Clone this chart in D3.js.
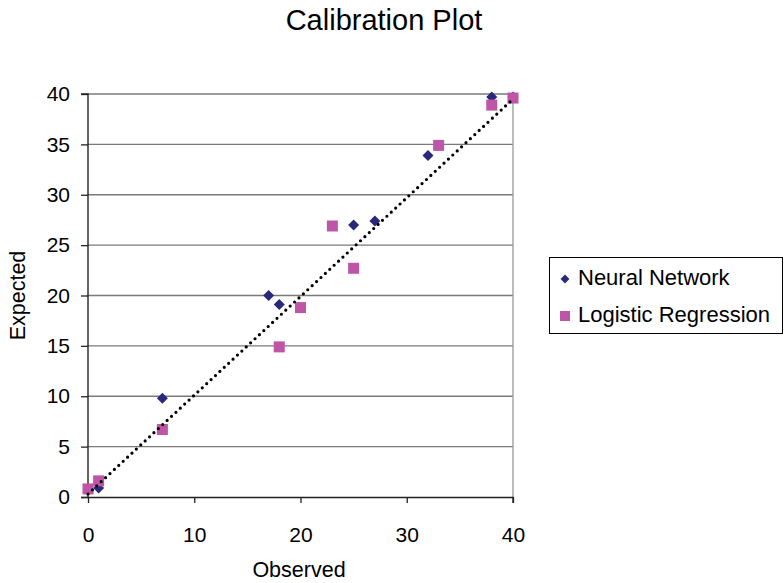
<!DOCTYPE html>
<html>
<head>
<meta charset="utf-8">
<script src="https://cdn.jsdelivr.net/npm/d3@7"></script>
<style>
  html, body { margin: 0; padding: 0; background: #fff; }
  svg text { font-family: "Liberation Sans", Arial, Helvetica, sans-serif; fill: #000; }
</style>
</head>
<body>
<svg id="chart" width="784" height="583"></svg>
<script>
// Observed vs expected counts for each model
const nnObserved = [1, 7, 17, 18, 25, 27, 32, 38, 40];
const nnExpected = [0.9, 9.8, 20, 19.1, 27, 27.4, 33.9, 39.7, 39.7];
const lrObserved = [0, 1, 7, 18, 20, 23, 25, 33, 38, 40];
const lrExpected = [0.8, 1.6, 6.7, 14.9, 18.8, 26.9, 22.7, 34.9, 38.9, 39.6];
// Linear trend (dotted) endpoints
const trendObserved = [0, 40];
const trendExpected = [0.3, 39.5];
const xTicks = [0, 10, 20, 30, 40];
const yTicks = [0, 5, 10, 15, 20, 25, 30, 35, 40];
const seriesNames = ["Neural Network", "Logistic Regression"];

const NAVY = "#29297c";
const PINK = "#bf55a7";

const svg = d3.select("#chart");
const x = d3.scaleLinear().domain([0, 40]).range([88, 513]);
const y = d3.scaleLinear().domain([0, 40]).range([497, 94]);

// Title
svg.append("text").attr("x", 384).attr("y", 30)
  .attr("text-anchor", "middle").style("font-size", "29px")
  .text("Calibration Plot");

// Horizontal gridlines
svg.append("g").selectAll("line").data(yTicks.filter(d => d > 0)).join("line")
  .attr("x1", x(0)).attr("x2", x(40))
  .attr("y1", d => y(d)).attr("y2", d => y(d))
  .attr("stroke", "#7a7a7a").attr("stroke-width", 1.3);

// Right edge of plot area
svg.append("line").attr("x1", x(40)).attr("x2", x(40))
  .attr("y1", y(40)).attr("y2", y(0))
  .attr("stroke", "#9a9a9a").attr("stroke-width", 1.3);

// Axes
const xAxis = d3.axisBottom(x).tickValues(xTicks).tickSize(6).tickPadding(24);
const yAxis = d3.axisLeft(y).tickValues(yTicks).tickSize(7).tickPadding(11);

const gx = svg.append("g").attr("transform", `translate(0,${y(0)})`).call(xAxis);
const gy = svg.append("g").attr("transform", `translate(${x(0)},0)`).call(yAxis);
[gx, gy].forEach(g => {
  g.select(".domain").attr("stroke", "#222").attr("stroke-width", 1.4);
  g.selectAll(".tick line").attr("stroke", "#222").attr("stroke-width", 1.3);
  g.selectAll(".tick text").style("font-size", "21px")
    .style("font-family", "'Liberation Sans', Arial, sans-serif").attr("fill", "#000");
});
gx.select(".domain").attr("d", `M${x(0) - 7},0.5H${x(40)}V6`);
gy.select(".domain").attr("d", `M-7,${y(40)}H0V${y(0)}`);

// Axis titles
svg.append("text").attr("x", 299).attr("y", 577)
  .attr("text-anchor", "middle").style("font-size", "21.5px").text("Observed");
svg.append("text").attr("transform", `translate(25,${y(20)}) rotate(-90)`)
  .attr("text-anchor", "middle").style("font-size", "21.5px").text("Expected");

// Markers
const diamond = d3.symbol().type(d3.symbolDiamond2).size(78);
const nn = nnObserved.map((o, i) => ({ o, e: nnExpected[i] }));
const lr = lrObserved.map((o, i) => ({ o, e: lrExpected[i] }));

svg.append("g").selectAll("path").data(nn).join("path")
  .attr("d", diamond)
  .attr("transform", d => `translate(${x(d.o)},${y(d.e)})`)
  .attr("fill", NAVY);

const sq = 11;
svg.append("g").selectAll("rect").data(lr).join("rect")
  .attr("x", d => x(d.o) - sq / 2).attr("y", d => y(d.e) - sq / 2)
  .attr("width", sq).attr("height", sq)
  .attr("fill", PINK);

// Dotted trend line
svg.append("line")
  .attr("x1", x(trendObserved[0])).attr("y1", y(trendExpected[0]))
  .attr("x2", x(trendObserved[1])).attr("y2", y(trendExpected[1]))
  .attr("stroke", "#000").attr("stroke-width", 3.2)
  .attr("stroke-linecap", "round").attr("stroke-dasharray", "0 6");

// Legend
const lg = svg.append("g");
lg.append("rect").attr("x", 549.5).attr("y", 257.5).attr("width", 233).attr("height", 76)
  .attr("fill", "#fff").attr("stroke", "#000").attr("stroke-width", 1);
lg.append("path").attr("d", d3.symbol().type(d3.symbolDiamond2).size(50))
  .attr("transform", "translate(565,279)").attr("fill", NAVY);
lg.append("rect").attr("x", 560).attr("y", 311).attr("width", 10).attr("height", 10).attr("fill", PINK);
lg.append("text").attr("x", 578).attr("y", 285).style("font-size", "22px").text(seriesNames[0]);
lg.append("text").attr("x", 578).attr("y", 322).style("font-size", "22px").text(seriesNames[1]);
</script>
</body>
</html>
